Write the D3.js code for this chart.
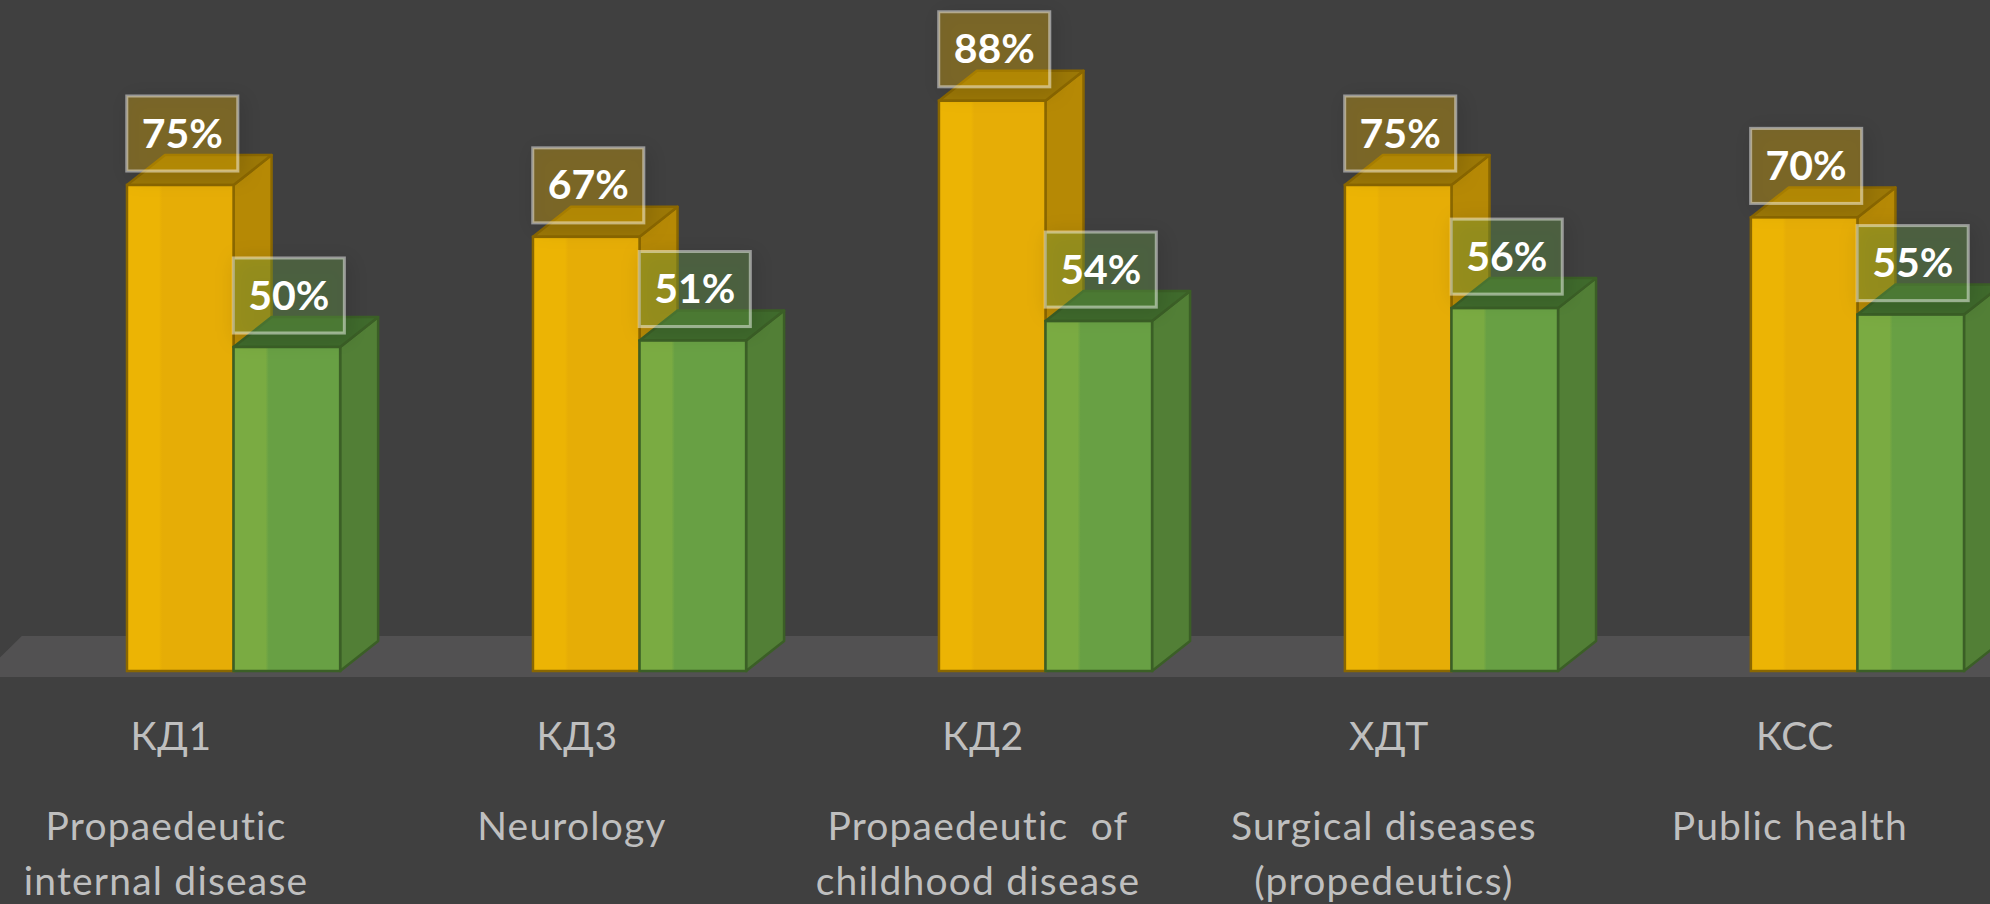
<!DOCTYPE html>
<html>
<head>
<meta charset="utf-8">
<script src="https://cdn.jsdelivr.net/npm/d3@7"></script>
<style>
  html, body { margin: 0; padding: 0; background: #404040; overflow: hidden; }
  #chart { width: 1990px; height: 904px; }
</style>
</head>
<body>
<div id="chart"></div>
<script>
// data
const codes = ["КД1", "КД3", "КД2", "ХДТ", "КСС"];
const subjects = [
    ["Propaedeutic", "internal disease"],
    ["Neurology"],
    ["Propaedeutic  of", "childhood disease"],
    ["Surgical diseases", "(propedeutics)"],
    ["Public health"]
];
const seriesKeys = ["first", "second"];
const firstValues = [0.75, 0.67, 0.88, 0.75, 0.70];
const secondValues = [0.50, 0.51, 0.54, 0.56, 0.55];

const width = 1990, height = 904;
const depthX = 38, depthY = 30; // 3d offset of bar tops/sides

const colors = {
    first: { front: "#e6ad06", light: "#ecb404", side: "#b68905", top: "#9c7806", stroke: "#8a6700" },
    second: { front: "#68a044", light: "#7aab42", side: "#527f36", top: "#3f6a2c", stroke: "#3b5f26" }
};

const svg = d3.select("#chart").append("svg")
    .attr("width", width)
    .attr("height", height)
    .style("font-family", "Lato, 'Open Sans', sans-serif");

svg.append("rect").attr("width", width).attr("height", height).attr("fill", "#404040");

const defs = svg.append("defs");
seriesKeys.forEach(k => {
    const g = defs.append("linearGradient").attr("id", "grad-" + k).attr("x1", 0).attr("x2", 1).attr("y1", 0).attr("y2", 0);
    g.append("stop").attr("offset", 0).attr("stop-color", colors[k].light);
    g.append("stop").attr("offset", 0.3).attr("stop-color", colors[k].light);
    g.append("stop").attr("offset", 0.33).attr("stop-color", colors[k].front);
    g.append("stop").attr("offset", 1).attr("stop-color", colors[k].front);
});
const shadow = defs.append("filter").attr("id", "shadow").attr("x", -0.5).attr("y", -0.5).attr("width", 2).attr("height", 2);
shadow.append("feDropShadow").attr("dx", 4).attr("dy", 4).attr("stdDeviation", 10)
    .attr("flood-color", "#000").attr("flood-opacity", 0.35);

// scales
const x = d3.scaleBand()
    .domain(codes)
    .range([127, 1964])
    .paddingInner(0.475)
    .paddingOuter(0);

const xInner = d3.scaleBand()
    .domain(seriesKeys)
    .range([0, x.bandwidth()]);

const y = d3.scaleLinear().domain([0, 1]).range([671, 23]);

// floor
const floorTop = y(0) - 35, floorBottom = y(0) + 6;
svg.append("path")
    .attr("d", `M${-20},${floorBottom} L${-20 + depthX * 1.1},${floorTop} L${width},${floorTop} L${width},${floorBottom} Z`)
    .attr("fill", "#525152");

const rows = codes.map((c, i) => ({ code: c, first: firstValues[i], second: secondValues[i] }));

function drawBar(g, x0, w, v, key) {
    const y0 = y(0), y1 = y(v);
    const c = colors[key];
    // side
    g.append("path")
        .attr("d", `M${x0 + w},${y1} L${x0 + w + depthX},${y1 - depthY} L${x0 + w + depthX},${y0 - depthY} L${x0 + w},${y0} Z`)
        .attr("fill", c.side).attr("stroke", c.stroke).attr("stroke-width", 2.5).attr("stroke-linejoin", "round");
    // top
    g.append("path")
        .attr("d", `M${x0},${y1} L${x0 + depthX},${y1 - depthY} L${x0 + w + depthX},${y1 - depthY} L${x0 + w},${y1} Z`)
        .attr("fill", c.top).attr("stroke", c.stroke).attr("stroke-width", 2.5).attr("stroke-linejoin", "round");
    // front
    g.append("rect")
        .attr("x", x0).attr("y", y1)
        .attr("width", w).attr("height", y0 - y1)
        .attr("fill", `url(#grad-${key})`)
        .attr("stroke", c.stroke).attr("stroke-width", 2.5);
}

const bars = svg.append("g");
rows.forEach(d => {
    const g = bars.append("g");
    seriesKeys.forEach(k => {
        drawBar(g, x(d.code) + xInner(k), xInner.bandwidth(), d[k], k);
    });
});

// value labels
const boxW = 111, boxH = 75;
const labels = svg.append("g");
rows.forEach(d => {
    seriesKeys.forEach(k => {
        const cx = x(d.code) + xInner(k) + xInner.bandwidth() / 2 + 2;
        const bottom = y(d[k]) - 14;
        const lg = labels.append("g");
        lg.append("rect")
            .attr("x", cx - boxW / 2).attr("y", bottom - boxH)
            .attr("width", boxW).attr("height", boxH)
            .attr("fill", colors[k].front).attr("fill-opacity", 0.32)
            .attr("stroke", "#ffffff").attr("stroke-opacity", 0.45).attr("stroke-width", 3)
            .attr("filter", "url(#shadow)");
        lg.append("text")
            .attr("x", cx).attr("y", bottom - boxH / 2 + 14)
            .attr("text-anchor", "middle")
            .attr("fill", "#ffffff")
            .style("font-size", "41px").style("font-weight", "bold")
            .text(d3.format(".0%")(d[k]));
    });
});

// category codes
svg.append("g").selectAll("text")
    .data(codes)
    .join("text")
    .attr("x", c => x(c) + 44)
    .attr("y", 750)
    .attr("text-anchor", "middle")
    .attr("fill", "#bfbfbf")
    .style("font-size", "39px")
    .style("letter-spacing", "0.5px")
    .text(c => c);

// subject names
const subj = svg.append("g");
subjects.forEach((lines, i) => {
    const t = subj.append("text")
        .attr("x", x(codes[i]) + 39)
        .attr("y", 840)
        .attr("text-anchor", "middle")
        .attr("fill", "#bfbfbf")
        .style("font-size", "39px")
        .style("letter-spacing", "1.2px")
        .style("white-space", "pre");
    lines.forEach((l, j) => {
        t.append("tspan").attr("x", x(codes[i]) + 39).attr("dy", j === 0 ? 0 : 55).text(l);
    });
});
</script>
</body>
</html>
